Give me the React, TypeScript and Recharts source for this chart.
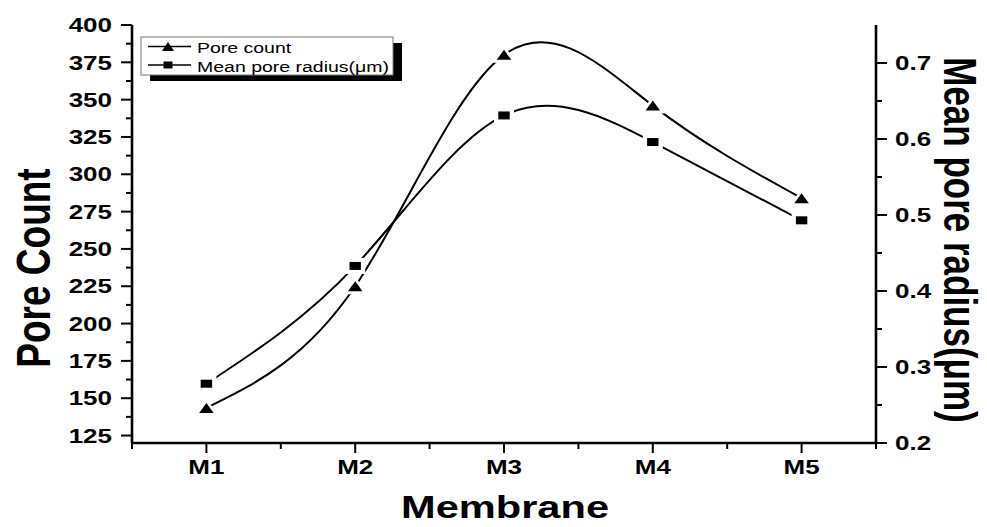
import React from 'react';
import { ComposedChart, Line, XAxis, YAxis } from 'recharts';

// Membrane samples and the two measured series
const membranes = ['M1', 'M2', 'M3', 'M4', 'M5'];
const poreCount = [143.5, 225, 380, 346, 284];
const meanPoreRadius = [0.278, 0.433, 0.631, 0.596, 0.493];

// Axis ticks (major ones carry labels)
const countTicks = [125, 150, 175, 200, 225, 250, 275, 300, 325, 350, 375, 400];
const radiusTicks = [0.2, 0.3, 0.4, 0.5, 0.6, 0.7];
const membraneTicks = [1, 2, 3, 4, 5];

const seriesNames = ['Pore count', 'Mean pore radius(μm)'];
const xTitle = 'Membrane';
const leftTitle = 'Pore Count';
const rightTitle = 'Mean pore radius(μm)';

const countDomain: [number, number] = [120, 400];
const radiusDomain: [number, number] = [0.2, 0.75];
const xDomain: [number, number] = [0.5, 5.5];

const FONT = 'Arial, "Liberation Sans", sans-serif';
const SX = 1.3; // wide lettering used throughout the figure
const TICK_FS = 20;

const data = membranes.map((name, i) => ({
  x: i + 1,
  name,
  count: poreCount[i],
  radius: meanPoreRadius[i],
}));

const countAll = [...countTicks, ...countTicks.map((t) => t - 12.5)]
  .filter((t) => t >= countDomain[0] && t <= countDomain[1])
  .sort((a, b) => a - b);
const radiusAll = [...radiusTicks, ...radiusTicks.map((t) => +(t + 0.05).toFixed(2))]
  .filter((t) => t >= radiusDomain[0] && t < radiusDomain[1])
  .sort((a, b) => a - b);
const xAll = [0.5, ...membraneTicks.flatMap((t) => [t, t + 0.5])];

const isMajorRadius = (v: number) => radiusTicks.some((t) => Math.abs(t - v) < 1e-6);

function LeftTick(props: any) {
  const { x, y, payload } = props;
  const v = payload.value;
  const major = countTicks.includes(v);
  return (
    <g>
      <line x1={x} x2={x - (major ? 11 : 6)} y1={y} y2={y} stroke="#000" strokeWidth={2} />
      {major && (
        <text
          transform={`translate(${x - 20},${y}) scale(${SX},1)`}
          textAnchor="end"
          dy="0.36em"
          fontSize={TICK_FS}
          fontWeight="bold"
          fontFamily={FONT}
          fill="#000"
        >
          {v}
        </text>
      )}
    </g>
  );
}

function RightTick(props: any) {
  const { x, y, payload } = props;
  const v = payload.value;
  const major = isMajorRadius(v);
  return (
    <g>
      <line x1={x} x2={x + (major ? 11 : 6)} y1={y} y2={y} stroke="#000" strokeWidth={2} />
      {major && (
        <text
          transform={`translate(${x + 19},${y}) scale(${SX},1)`}
          textAnchor="start"
          dy="0.36em"
          fontSize={TICK_FS}
          fontWeight="bold"
          fontFamily={FONT}
          fill="#000"
        >
          {v.toFixed(1)}
        </text>
      )}
    </g>
  );
}

function BottomTick(props: any) {
  const { x, y, payload } = props;
  const v = payload.value;
  const major = Number.isInteger(v);
  return (
    <g>
      <line x1={x} x2={x} y1={y} y2={y + (major ? 10 : 6)} stroke="#000" strokeWidth={2} />
      {major && (
        <text
          transform={`translate(${x},${y + 31}) scale(${SX},1)`}
          textAnchor="middle"
          fontSize={TICK_FS}
          fontWeight="bold"
          fontFamily={FONT}
          fill="#000"
        >
          {membranes[v - 1]}
        </text>
      )}
    </g>
  );
}

const triPoints = (cx: number, cy: number, w: number, h: number) =>
  `${cx},${cy - h / 2} ${cx - w / 2},${cy + h / 2} ${cx + w / 2},${cy + h / 2}`;

function TriangleDot(props: any) {
  const { cx, cy, index } = props;
  if (cx == null || cy == null) return <g key={`tri-${index}`} />;
  return (
    <g key={`tri-${index}`}>
      <polygon points={triPoints(cx, cy - 1, 24, 18)} fill="#fff" />
      <polygon points={triPoints(cx, cy, 14.5, 10)} fill="#000" />
    </g>
  );
}

function SquareDot(props: any) {
  const { cx, cy, index } = props;
  if (cx == null || cy == null) return <g key={`sq-${index}`} />;
  return (
    <g key={`sq-${index}`}>
      <rect x={cx - 10} y={cy - 8} width={20} height={16} fill="#fff" />
      <rect x={cx - 5.7} y={cy - 4} width={11.4} height={8} fill="#000" />
    </g>
  );
}

const axisLine = { stroke: '#000', strokeWidth: 2.6 };

export default function App() {
  return (
    <div style={{ position: 'absolute', left: 0, top: 0, width: 987, height: 527, background: '#fff' }}>
      <ComposedChart
        width={987}
        height={527}
        data={data}
        margin={{ top: 25, right: 0, bottom: 0, left: 0 }}
      >
        <XAxis
          dataKey="x"
          type="number"
          domain={xDomain}
          ticks={xAll}
          interval={0}
          allowDataOverflow
          height={84}
          tickSize={0}
          tickMargin={0}
          tickLine={false}
          axisLine={axisLine}
          tick={(p: any) => <BottomTick {...p} />}
        />
        <XAxis
          xAxisId="top"
          orientation="top"
          dataKey="x"
          type="number"
          domain={xDomain}
          allowDataOverflow
          height={0}
          tick={false}
          tickLine={false}
          axisLine={axisLine}
        />
        <YAxis
          yAxisId="left"
          orientation="left"
          type="number"
          domain={countDomain}
          ticks={countAll}
          interval={0}
          allowDataOverflow
          width={132}
          tickSize={0}
          tickMargin={0}
          tickLine={false}
          axisLine={axisLine}
          tick={(p: any) => <LeftTick {...p} />}
        />
        <YAxis
          yAxisId="right"
          orientation="right"
          type="number"
          domain={radiusDomain}
          ticks={radiusAll}
          interval={0}
          allowDataOverflow
          width={111}
          tickSize={0}
          tickMargin={0}
          tickLine={false}
          axisLine={axisLine}
          tick={(p: any) => <RightTick {...p} />}
        />
        <Line
          yAxisId="left"
          type="natural"
          dataKey="count"
          name={seriesNames[0]}
          stroke="#000"
          strokeWidth={2}
          dot={(p: any) => <TriangleDot {...p} />}
          activeDot={false}
          isAnimationActive={false}
        />
        <Line
          yAxisId="right"
          type="natural"
          dataKey="radius"
          name={seriesNames[1]}
          stroke="#000"
          strokeWidth={2}
          dot={(p: any) => <SquareDot {...p} />}
          activeDot={false}
          isAnimationActive={false}
        />
      </ComposedChart>

      {/* Legend box with drop shadow and axis titles */}
      <svg
        width={987}
        height={527}
        style={{ position: 'absolute', left: 0, top: 0, pointerEvents: 'none' }}
      >
        <rect x={150} y={43} width={252} height={38} fill="#000" />
        <rect x={141} y={37} width={252} height={38} fill="#fff" stroke="#777" strokeWidth={1} />
        <line x1={148} x2={191} y1={46.5} y2={46.5} stroke="#000" strokeWidth={1.6} />
        <polygon points={triPoints(168, 46.5, 12, 9)} fill="#000" />
        <text
          transform={`translate(197,53) scale(${SX},1)`}
          fontSize={15}
          fontFamily={FONT}
          fill="#000"
        >
          {seriesNames[0]}
        </text>
        <line x1={148} x2={191} y1={65} y2={65} stroke="#000" strokeWidth={1.6} />
        <rect x={163.5} y={61.5} width={9} height={7} fill="#000" />
        <text
          transform={`translate(197,71.5) scale(${SX},1)`}
          fontSize={15}
          fontFamily={FONT}
          fill="#000"
        >
          {seriesNames[1]}
        </text>

        <text
          transform={`translate(505,518) scale(${SX},1)`}
          textAnchor="middle"
          fontSize={32}
          fontWeight="bold"
          fontFamily={FONT}
          fill="#000"
        >
          {xTitle}
        </text>
        <text
          transform={`translate(33,268) scale(${SX},1) rotate(-90)`}
          textAnchor="middle"
          dy="0.36em"
          fontSize={37}
          fontWeight="bold"
          fontFamily={FONT}
          fill="#000"
        >
          {leftTitle}
        </text>
        <text
          transform={`translate(960,240) scale(${SX},1) rotate(90)`}
          textAnchor="middle"
          dy="0.36em"
          fontSize={35}
          fontWeight="bold"
          fontFamily={FONT}
          fill="#000"
        >
          {rightTitle}
        </text>
      </svg>
    </div>
  );
}
